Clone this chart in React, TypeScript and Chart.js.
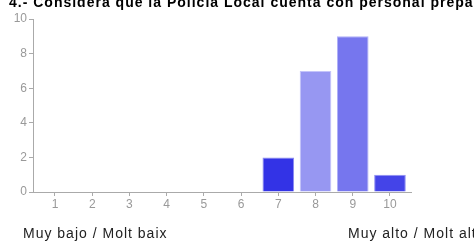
import React, { useEffect, useRef } from "react";
import { Chart, registerables } from "chart.js";

Chart.register(...registerables);

const titleText = "4.- Considera que la Policía Local cuenta con personal preparado?";
const lowLabel = "Muy bajo / Molt baix";
const highLabel = "Muy alto / Molt alto";
const categories = [1, 2, 3, 4, 5, 6, 7, 8, 9, 10];
const counts = [0, 0, 0, 0, 0, 0, 2, 7, 9, 1];
const barColors = ["#3333e6", "#3333e6", "#3333e6", "#3333e6", "#3333e6", "#3333e6", "#3333e6", "#9797f2", "#7676ee", "#4444e8"];
const barEdges = ["#8a8af0", "#8a8af0", "#8a8af0", "#8a8af0", "#8a8af0", "#8a8af0", "#8a8af0", "#c4c4fa", "#b0b0f8", "#9090f2"];
const yTicks = [0, 2, 4, 6, 8, 10];

export default function App() {
  const ref = useRef<HTMLCanvasElement | null>(null);

  useEffect(() => {
    if (!ref.current) return;
    const axisColor = "#aaaaaa";
    const tickFont = { family: "'Liberation Sans', Arial, sans-serif", size: 12 };
    const chart = new Chart(ref.current, {
      type: "bar",
      data: {
        datasets: [
          {
            data: categories.map((c, i) => ({ x: c, y: counts[i] })),
            backgroundColor: barColors,
            borderColor: barEdges,
            borderWidth: counts.map((v) => (v > 0 ? 1 : 0)),
            borderSkipped: "bottom",
            categoryPercentage: 1,
            barPercentage: 0.85,
          } as any,
        ],
      },
      options: {
        responsive: false,
        animation: false,
        layout: { padding: { top: 19, right: 63, bottom: 30, left: 0 } },
        plugins: { legend: { display: false }, title: { display: false }, tooltip: { enabled: false } },
        scales: {
          x: {
            type: "linear",
            offset: false,
            min: 0.409,
            max: 10.565,
            afterBuildTicks: (axis: any) => {
              axis.ticks = categories.map((v) => ({ value: v }));
            },
            afterFit: (s: any) => {
              s.height = 20;
            },
            grid: { drawOnChartArea: false, drawTicks: true, tickLength: 4, color: axisColor, offset: false },
            border: { color: axisColor, width: 1 },
            ticks: { color: "#999999", font: tickFont, padding: 1, maxRotation: 0, autoSkip: false },
          },
          y: {
            min: 0,
            max: 10,
            afterBuildTicks: (axis: any) => {
              axis.ticks = yTicks.map((v) => ({ value: v }));
            },
            afterFit: (s: any) => {
              s.width = 33;
            },
            grid: { drawOnChartArea: false, drawTicks: true, tickLength: 4, color: axisColor },
            border: { color: axisColor, width: 1 },
            ticks: { color: "#999999", font: tickFont, padding: 2 },
          },
        },
      } as any,
    });
    return () => chart.destroy();
  }, []);

  const textBase: React.CSSProperties = {
    position: "absolute",
    fontFamily: "'Liberation Sans', Arial, sans-serif",
    fontSize: 14,
    lineHeight: "16px",
    whiteSpace: "nowrap",
  };

  return (
    <div
      style={{
        position: "fixed",
        left: 0,
        top: 0,
        width: 474,
        height: 242,
        overflow: "hidden",
        background: "#ffffff",
      }}
    >
      <canvas ref={ref} width={474} height={242} style={{ position: "absolute", left: 0, top: 0 }} />
      <div style={{ ...textBase, left: 9, top: -6, fontWeight: "bold", letterSpacing: 1, color: "#000" }}>
        {titleText}
      </div>
      <div style={{ ...textBase, left: 23, top: 224.5, letterSpacing: 1, color: "#222" }}>{lowLabel}</div>
      <div style={{ ...textBase, left: 348, top: 224.5, letterSpacing: 1, color: "#222" }}>{highLabel}</div>
    </div>
  );
}
